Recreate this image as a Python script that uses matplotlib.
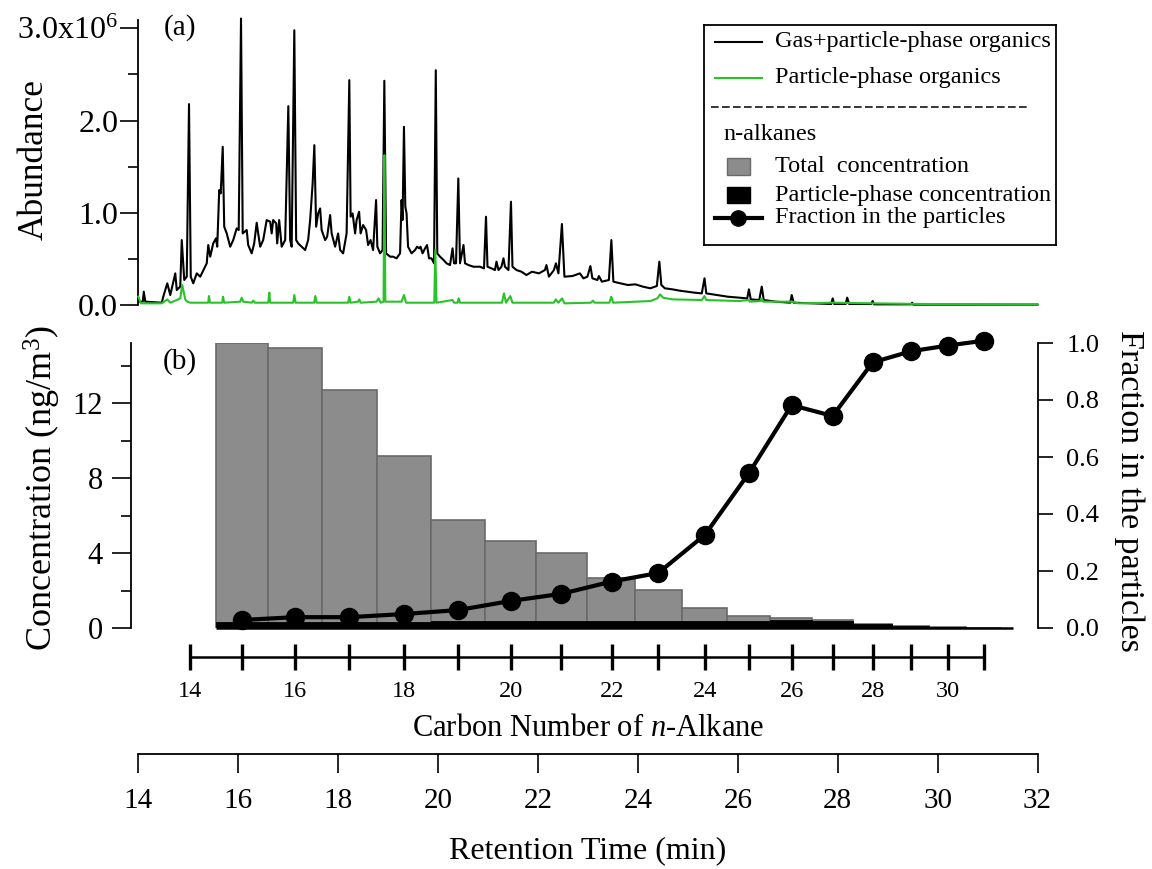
import numpy as np
import matplotlib
matplotlib.use('Agg')
import matplotlib.pyplot as plt
from matplotlib.ticker import MultipleLocator, FixedLocator, FormatStrFormatter
from matplotlib.patches import Rectangle

plt.rcParams['font.family'] = ['Liberation Serif', 'DejaVu Serif']
plt.rcParams['mathtext.fontset'] = 'custom'
plt.rcParams['mathtext.rm'] = 'Liberation Serif'
plt.rcParams['mathtext.it'] = 'Liberation Serif:italic'

# --- chromatogram, retention time (min) vs abundance (x1e6) ---
gp_time = [
    14.00, 14.09, 14.11, 14.14, 14.47, 14.50, 14.58, 14.64, 14.74, 14.77,
    14.84, 14.87, 14.92, 14.97, 15.015, 15.05, 15.10, 15.17, 15.24, 15.37,
    15.40, 15.44, 15.50, 15.555, 15.58, 15.62, 15.65, 15.69, 15.72, 15.77,
    15.84, 15.90, 15.97, 16.01, 16.056, 16.09, 16.17, 16.20, 16.27, 16.32,
    16.37, 16.40, 16.44, 16.50, 16.57, 16.64, 16.67, 16.70, 16.76, 16.78,
    16.82, 16.87, 16.94, 17.003, 17.04, 17.07, 17.123, 17.16, 17.20, 17.27,
    17.34, 17.40, 17.44, 17.49, 17.524, 17.56, 17.60, 17.64, 17.67, 17.74,
    17.78, 17.84, 17.87, 17.94, 18.00, 18.04, 18.10, 18.17, 18.224, 18.25,
    18.29, 18.34, 18.37, 18.42, 18.45, 18.50, 18.56, 18.60, 18.65, 18.70,
    18.76, 18.785, 18.84, 18.89, 18.925, 18.96, 19.04, 19.10, 19.17, 19.24,
    19.27, 19.29, 19.318, 19.345, 19.37, 19.40, 19.47, 19.54, 19.58, 19.62,
    19.65, 19.69, 19.74, 19.78, 19.82, 19.87, 19.92, 19.955, 19.985, 20.04,
    20.11, 20.17, 20.24, 20.29, 20.32, 20.36, 20.406, 20.44, 20.51, 20.54,
    20.61, 20.71, 20.84, 20.92, 20.96, 20.99, 21.07, 21.14, 21.17, 21.21,
    21.27, 21.31, 21.34, 21.41, 21.46, 21.49, 21.57, 21.67, 21.77, 21.88,
    22.02, 22.14, 22.17, 22.22, 22.32, 22.36, 22.41, 22.48, 22.53, 22.69,
    22.84, 22.91, 22.99, 23.05, 23.09, 23.19, 23.22, 23.28, 23.42, 23.47,
    23.51, 23.65, 23.80, 23.95, 24.10, 24.25, 24.38, 24.43, 24.47, 24.54,
    24.69, 24.84, 24.99, 25.13, 25.28, 25.334, 25.37, 25.58, 25.80, 26.02,
    26.19, 26.223, 26.26, 26.43, 26.48, 26.52, 26.76, 27.05, 27.08, 27.12,
    27.50, 27.87, 27.90, 27.93, 28.16, 28.19, 28.23, 28.67, 28.70, 28.73,
    29.47, 29.49, 29.51, 32.00,
]
gp_abund = [
    0.036, 0.036, 0.144, 0.036, 0.025, 0.090, 0.235, 0.108, 0.343, 0.163,
    0.199, 0.704, 0.271, 0.307, 2.178, 0.307, 0.235, 0.343, 0.307, 0.452,
    0.650, 0.524, 0.668, 0.722, 0.632, 1.246, 1.210, 1.715, 0.849, 0.776,
    0.632, 0.704, 0.831, 0.813, 3.106, 0.776, 0.813, 0.650, 0.560, 0.668,
    0.892, 0.776, 0.632, 0.704, 0.921, 0.903, 0.776, 0.921, 0.885, 0.668,
    0.921, 0.632, 0.704, 2.156, 0.704, 0.632, 2.979, 0.704, 0.668, 0.632,
    0.596, 0.704, 0.921, 1.318, 1.733, 0.849, 0.993, 1.047, 0.813, 0.704,
    0.740, 0.975, 0.776, 0.632, 0.776, 0.596, 0.560, 0.776, 2.438, 0.957,
    0.993, 0.776, 0.921, 1.011, 0.776, 0.867, 0.813, 0.650, 0.704, 0.596,
    1.138, 0.632, 0.560, 0.596, 2.431, 0.560, 0.524, 0.524, 0.506, 0.560,
    1.138, 0.921, 1.932, 1.065, 0.993, 0.632, 0.560, 0.596, 0.632, 0.614,
    0.632, 0.560, 0.614, 0.650, 0.506, 0.506, 0.452, 2.546, 0.560, 0.524,
    0.488, 0.452, 0.433, 0.614, 0.452, 0.452, 1.372, 0.452, 0.650, 0.452,
    0.433, 0.415, 0.415, 0.397, 0.957, 0.415, 0.397, 0.379, 0.470, 0.379,
    0.415, 0.506, 0.415, 0.379, 1.120, 0.415, 0.379, 0.361, 0.325, 0.361,
    0.343, 0.379, 0.433, 0.307, 0.379, 0.452, 0.343, 0.878, 0.307, 0.314,
    0.343, 0.289, 0.307, 0.422, 0.289, 0.271, 0.314, 0.253, 0.271, 0.704,
    0.253, 0.235, 0.217, 0.224, 0.199, 0.181, 0.206, 0.470, 0.217, 0.181,
    0.170, 0.155, 0.144, 0.134, 0.126, 0.289, 0.126, 0.108, 0.090, 0.080,
    0.072, 0.170, 0.061, 0.054, 0.199, 0.054, 0.036, 0.025, 0.108, 0.025,
    0.018, 0.011, 0.072, 0.011, 0.011, 0.080, 0.011, 0.011, 0.043, 0.007,
    0.007, 0.025, 0.004, 0.004,
]

p_time = [
    14.00, 14.05, 14.47, 14.58, 14.64, 14.77, 14.84, 14.88, 14.94, 14.98,
    15.04, 15.40, 15.415, 15.435, 15.68, 15.695, 15.72, 16.04, 16.07, 16.10,
    16.27, 16.30, 16.34, 16.60, 16.623, 16.64, 17.10, 17.123, 17.15, 17.52,
    17.544, 17.57, 18.20, 18.224, 18.25, 18.40, 18.424, 18.45, 18.77, 18.81,
    18.85, 18.91, 18.925, 18.945, 19.27, 19.318, 19.36, 19.925, 19.945, 19.97,
    20.29, 20.32, 20.39, 20.413, 20.44, 21.28, 21.32, 21.36, 21.446, 21.49,
    22.32, 22.357, 22.41, 22.483, 22.53, 23.06, 23.10, 23.135, 23.43, 23.468,
    23.505, 24.25, 24.39, 24.445, 24.505, 24.69, 25.28, 25.334, 25.37, 26.02,
    26.21, 26.245, 26.47, 26.482, 26.51, 27.08, 27.21, 27.90, 28.69, 29.73,
    32.00,
]
p_abund = [
    0.090, 0.018, 0.018, 0.061, 0.025, 0.054, 0.072, 0.217, 0.061, 0.036,
    0.025, 0.025, 0.097, 0.025, 0.025, 0.090, 0.025, 0.036, 0.079, 0.036,
    0.025, 0.047, 0.025, 0.025, 0.134, 0.025, 0.025, 0.108, 0.025, 0.025,
    0.097, 0.025, 0.025, 0.090, 0.025, 0.036, 0.061, 0.025, 0.036, 0.072,
    0.025, 0.036, 1.625, 0.036, 0.036, 0.108, 0.025, 0.025, 0.596, 0.025,
    0.054, 0.025, 0.025, 0.072, 0.025, 0.025, 0.126, 0.025, 0.097, 0.025,
    0.025, 0.061, 0.025, 0.072, 0.018, 0.025, 0.047, 0.025, 0.025, 0.090,
    0.025, 0.043, 0.072, 0.115, 0.079, 0.061, 0.054, 0.097, 0.054, 0.043,
    0.054, 0.036, 0.043, 0.072, 0.036, 0.036, 0.018, 0.025, 0.018, 0.011,
    0.007,
]

# --- n-alkane retention times (min) ---
carbon_num = list(range(14, 32))
carbon_rt = [15.035, 16.070, 17.136, 18.223, 19.318, 20.405, 21.460, 22.471,
             23.476, 24.408, 25.343, 26.230, 27.078, 27.899, 28.700, 29.467,
             30.201, 30.927]

# --- n-alkane concentrations, C15..C31 ---
alk_carbon = list(range(15, 32))
total_conc = [15.2, 14.95, 12.7, 9.15, 5.75, 4.65, 4.0, 2.65, 2.05, 1.05,
              0.62, 0.52, 0.45, 0.21, 0.10, 0.04, 0.02]
particle_conc = [0.34, 0.34, 0.34, 0.34, 0.35, 0.35, 0.35, 0.36, 0.36, 0.36,
                 0.40, 0.42, 0.36, 0.19, 0.09, 0.04, 0.02]
frac_particle = [0.028, 0.038, 0.038, 0.049, 0.063, 0.095, 0.12, 0.163, 0.193,
                 0.327, 0.545, 0.782, 0.744, 0.932, 0.971, 0.991, 1.008]

W, H = 1152, 869
X0, X1 = 138.3, 1037.5   # pixel columns of 14 and 32 min


def px_rect(left, right, top, bottom):
    return [left / W, 1 - bottom / H, (right - left) / W, (bottom - top) / H]


fig = plt.figure(figsize=(W / 100, H / 100), dpi=100)
fig.patch.set_facecolor('white')

# ---------------- (a) chromatograms ----------------
ax_a = fig.add_axes(px_rect(X0, X1, 20, 305))
ax_a.plot(gp_time, np.array(gp_abund) * 1e6, color='black', lw=1.5,
          clip_on=False, zorder=2)
ax_a.plot(p_time, np.array(p_abund) * 1e6, color='#27c327', lw=1.5,
          clip_on=False, zorder=3)
ax_a.set_xlim(14, 32)
ax_a.set_ylim(0, 3.09e6)
for s in ['top', 'right', 'bottom']:
    ax_a.spines[s].set_visible(False)
ax_a.spines['left'].set_linewidth(1.3)
ax_a.xaxis.set_visible(False)
ax_a.yaxis.set_major_locator(FixedLocator([0, 1e6, 2e6, 3e6]))
ax_a.set_yticklabels(['0.0', '1.0', '2.0', '3.0x10$^{6}$'])
ax_a.yaxis.set_minor_locator(MultipleLocator(0.5e6))
ax_a.tick_params(axis='y', which='major', length=13, width=1.2, labelsize=23, pad=1.5)
ax_a.tick_params(axis='y', which='minor', length=7, width=1.2)
ax_a.patch.set_visible(False)

# ---------------- (b) n-alkane bars + particle fraction ----------------
rt = np.array(carbon_rt)
left_edges = (rt[:-1] + rt[1:]) / 2
right_edges = np.append(left_edges[1:], rt[-1] + (rt[-1] - rt[-2]) / 2)
widths = right_edges - left_edges
alk_rt = rt[1:]

ax_b = fig.add_axes(px_rect(X0, X1, 343, 628))
ax_b.bar(left_edges, total_conc, width=widths, align='edge',
         color='#8c8c8c', edgecolor='#6a6a6a', lw=1.2, zorder=2)
ax_b.bar(left_edges, particle_conc, width=widths, align='edge',
         color='black', edgecolor='black', lw=0.6, zorder=3)
ax_b.hlines(0, left_edges[0], 31.51, color='black', lw=1.8, zorder=3, clip_on=False)
ax_b.set_xlim(14, 32)
ax_b.set_ylim(0, 15.2)
for s in ['top', 'right', 'bottom']:
    ax_b.spines[s].set_visible(False)
ax_b.spines['left'].set_position(('outward', 5))
ax_b.spines['left'].set_linewidth(1.3)
ax_b.xaxis.set_visible(False)
ax_b.yaxis.set_major_locator(FixedLocator([0, 4, 8, 12]))
ax_b.yaxis.set_minor_locator(FixedLocator([2, 6, 10, 14]))
ax_b.tick_params(axis='y', which='major', length=13.5, width=1.2, labelsize=22, pad=7)
ax_b.tick_params(axis='y', which='minor', length=7, width=1.2)
ax_b.patch.set_visible(False)

ax_f = ax_b.twinx()
ax_f.plot(alk_rt, frac_particle, '-o', color='black', lw=3, ms=13,
          clip_on=False, zorder=5)
ax_f.set_ylim(0, 1.0)
for s in ['top', 'left', 'bottom']:
    ax_f.spines[s].set_visible(False)
ax_f.spines['right'].set_linewidth(1.3)
ax_f.spines['right'].set_bounds(0, 1.0)
ax_f.yaxis.set_major_locator(MultipleLocator(0.2))
ax_f.yaxis.set_major_formatter(FormatStrFormatter('%.1f'))
ax_f.tick_params(axis='y', length=10.8, width=1.2, labelsize=19, pad=10)

# ---------------- carbon number axis ----------------
ax_c = fig.add_axes(px_rect(X0, X1, 656.9, 657))
ax_c.set_xlim(14, 32)
ax_c.yaxis.set_visible(False)
for s in ['top', 'left', 'right']:
    ax_c.spines[s].set_visible(False)
ax_c.spines['bottom'].set_bounds(carbon_rt[0], carbon_rt[-1])
ax_c.spines['bottom'].set_linewidth(1.8)
ax_c.set_xticks(carbon_rt)
ax_c.set_xticklabels([str(c) if c % 2 == 0 else '' for c in carbon_num])
ax_c.tick_params(axis='x', direction='inout', length=19, width=2.4, labelsize=17.5, pad=8)
ax_c.patch.set_visible(False)

# ---------------- retention time axis ----------------
ax_r = fig.add_axes(px_rect(X0, X1, 753.9, 754))
ax_r.set_xlim(14, 32)
ax_r.yaxis.set_visible(False)
for s in ['top', 'left', 'right']:
    ax_r.spines[s].set_visible(False)
ax_r.spines['bottom'].set_linewidth(1.3)
ax_r.xaxis.set_major_locator(MultipleLocator(2))
ax_r.tick_params(axis='x', direction='out', length=13.7, width=1.2, labelsize=21, pad=11)
ax_r.patch.set_visible(False)

# ---------------- titles and panel tags ----------------
def ftext(x, y, s, **kw):
    fig.text(x / W, 1 - y / H, s, ha='center', va='center', **kw)


ftext(34, 159, 'Abundance', rotation=90, fontsize=25.5)
ftext(42, 488, 'Concentration (ng/m$^{3}$)', rotation=90, fontsize=26)
ftext(1129, 491, 'Fraction in the particles', rotation=270, fontsize=24.5)
ftext(588, 729, 'Carbon Number of $n$-Alkane', fontsize=22)
ftext(588, 851, 'Retention Time (min)', fontsize=23)
ftext(180, 28, '(a)', fontsize=21)
ftext(180, 362, '(b)', fontsize=21)

# ---------------- legend box ----------------
L, R, T, B = 704, 1056, 25, 245
ax_l = fig.add_axes(px_rect(L, R, T, B))
ax_l.set_xlim(L, R)
ax_l.set_ylim(B, T)
ax_l.set_xticks([])
ax_l.set_yticks([])
for s in ax_l.spines.values():
    s.set_linewidth(1.3)
leg_fs = 17.5
ax_l.plot([715, 762], [42, 42], color='black', lw=1.5)
ax_l.text(775, 42, 'Gas+particle-phase organics', va='center', fontsize=leg_fs)
ax_l.plot([715, 762], [78, 78], color='#27c327', lw=1.5)
ax_l.text(775, 78, 'Particle-phase organics', va='center', fontsize=leg_fs)
ax_l.plot([711, 1027], [107, 107], color='black', lw=1.1, dashes=(5, 2.2))
ax_l.text(723, 135, 'n-alkanes', va='center', fontsize=leg_fs)
ax_l.add_patch(Rectangle((727, 158), 23, 17, facecolor='#8c8c8c', edgecolor='#6a6a6a', lw=1))
ax_l.text(775, 167, 'Total  concentration', va='center', fontsize=leg_fs)
ax_l.add_patch(Rectangle((727, 187), 23, 16, facecolor='black', edgecolor='black'))
ax_l.text(775, 195, 'Particle-phase concentration', va='center', fontsize=leg_fs)
ax_l.plot([715, 738, 762], [218, 218, 218], color='black', lw=3,
          marker='o', ms=11, markevery=[1])
ax_l.text(775, 218, 'Fraction in the particles', va='center', fontsize=leg_fs)

fig.savefig('out.png', dpi=100)
